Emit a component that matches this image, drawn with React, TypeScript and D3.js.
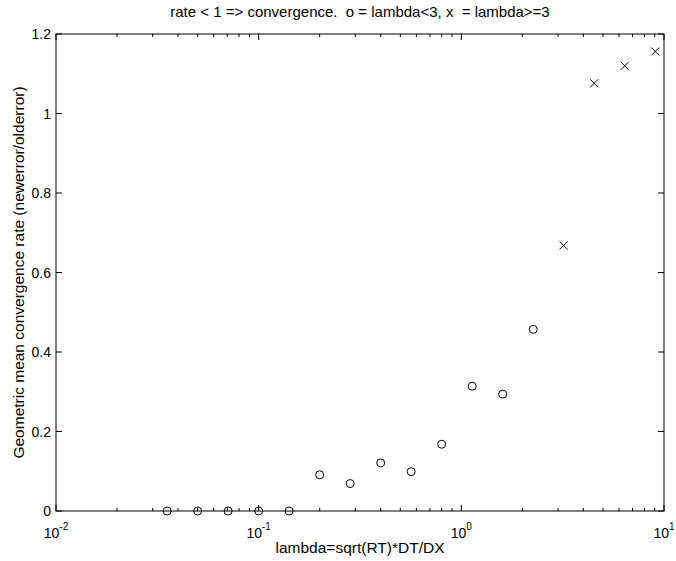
import React from "react";
import * as d3 from "d3";

const lambdaValues = [0.03536, 0.05, 0.07071, 0.1, 0.1414, 0.2, 0.2828, 0.4, 0.5657, 0.8, 1.1314, 1.6, 2.2627, 3.2, 4.5255, 6.4, 9.051];
const rateValues = [0, 0, 0, 0, 0, 0.091, 0.069, 0.121, 0.099, 0.168, 0.314, 0.294, 0.457, 0.668, 1.076, 1.12, 1.156];
const yTicks = [0, 0.2, 0.4, 0.6, 0.8, 1, 1.2];
const xExponents = [-2, -1, 0, 1];
const titleText = "rate < 1 => convergence.  o = lambda<3, x  = lambda>=3";
const xLabelText = "lambda=sqrt(RT)*DT/DX";
const yLabelText = "Geometric mean convergence rate (newerror/olderror)";

const W = 676;
const H = 561;
const M = { left: 56, right: 12, top: 34, bottom: 50 };

export default function App() {
  const x = d3.scaleLog().domain([0.01, 10]).range([M.left, W - M.right]);
  const y = d3.scaleLinear().domain([0, 1.2]).range([H - M.bottom, M.top]);
  const x0 = M.left, x1 = W - M.right, y0 = H - M.bottom, y1 = M.top;
  const font = "'Liberation Sans', Arial, Helvetica, sans-serif";

  const minorTicks: number[] = [];
  for (let e = -2; e < 1; e++) {
    for (let m = 2; m <= 9; m++) minorTicks.push(m * Math.pow(10, e));
  }
  const majorLen = 6;
  const minorLen = 3;

  const pts = lambdaValues.map((l, i) => ({ l, r: rateValues[i] }));

  return (
    <svg width={W} height={H} style={{ position: "absolute", left: 0, top: 0, background: "#fff" }}>
      <rect x={0} y={0} width={W} height={H} fill="#fff" />
      <rect x={x0} y={y1} width={x1 - x0} height={y0 - y1} fill="none" stroke="#000" strokeWidth={1} />
      {xExponents.map((e) => {
        const px = x(Math.pow(10, e));
        return (
          <g key={"xm" + e}>
            <line x1={px} x2={px} y1={y0} y2={y0 - majorLen} stroke="#000" />
            <line x1={px} x2={px} y1={y1} y2={y1 + majorLen} stroke="#000" />
            <text x={px} y={y0 + 27} textAnchor="middle" fontFamily={font} fontSize={14}>
              10
              <tspan dy={-8} fontSize={10}>{e}</tspan>
            </text>
          </g>
        );
      })}
      {minorTicks.map((v, i) => {
        const px = x(v);
        return (
          <g key={"xn" + i}>
            <line x1={px} x2={px} y1={y0} y2={y0 - minorLen} stroke="#000" />
            <line x1={px} x2={px} y1={y1} y2={y1 + minorLen} stroke="#000" />
          </g>
        );
      })}
      {yTicks.map((t) => {
        const py = y(t);
        return (
          <g key={"y" + t}>
            <line x1={x0} x2={x0 + majorLen} y1={py} y2={py} stroke="#000" />
            <line x1={x1} x2={x1 - majorLen} y1={py} y2={py} stroke="#000" />
            <text x={x0 - 5} y={py + 5} textAnchor="end" fontFamily={font} fontSize={14}>
              {String(t)}
            </text>
          </g>
        );
      })}
      {pts.map((p, i) =>
        p.l < 3 ? (
          <circle key={"p" + i} cx={x(p.l)} cy={y(p.r)} r={4} fill="none" stroke="#000" strokeWidth={1} />
        ) : (
          <g key={"p" + i} stroke="#000" strokeWidth={1}>
            <line x1={x(p.l) - 4} x2={x(p.l) + 4} y1={y(p.r) - 4} y2={y(p.r) + 4} />
            <line x1={x(p.l) - 4} x2={x(p.l) + 4} y1={y(p.r) + 4} y2={y(p.r) - 4} />
          </g>
        )
      )}
      <text
        x={(x0 + x1) / 2}
        y={17}
        textAnchor="middle"
        fontFamily={font}
        fontSize={15}
        style={{ whiteSpace: "pre" }}
      >
        {titleText}
      </text>
      <text x={(x0 + x1) / 2} y={H - 8} textAnchor="middle" fontFamily={font} fontSize={15.5}>
        {xLabelText}
      </text>
      <text
        transform={`translate(${24},${(y0 + y1) / 2}) rotate(-90)`}
        textAnchor="middle"
        fontFamily={font}
        fontSize={15.5}
      >
        {yLabelText}
      </text>
    </svg>
  );
}
